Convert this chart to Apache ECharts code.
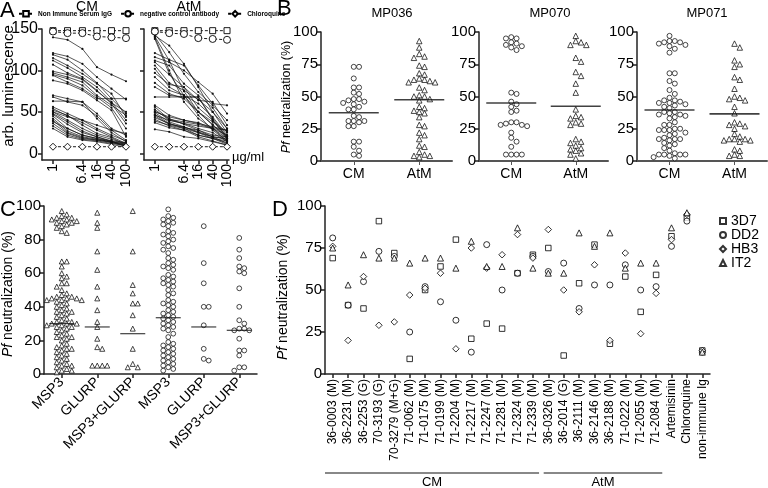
<!DOCTYPE html>
<html><head><meta charset="utf-8">
<script src="https://cdn.jsdelivr.net/npm/echarts@6/dist/echarts.min.js"></script>
<style>html,body{margin:0;padding:0;background:#fff}#c{width:768px;height:488px}</style>
</head><body><div id="c"></div>
<script>
const FONT = 'Liberation Sans, Arial, Helvetica, sans-serif';

// ---------- Panel A data ----------
const conc = [1, 2.5, 6.4, 16, 40, 100];
const concTickLabels = [1, 6.4, 16, 40, 100];
const lumTicks = [0, 50, 100, 150];
const igG_CM = [148, 148, 148, 148, 148, 148];
const negCtrl_CM = [147, 145, 145, 141, 140, 139];
const chloro_CM = [8, 8, 8, 8, 8, 8];
const igG_AtM = [148, 148, 148, 148, 148, 148];
const negCtrl_AtM = [147, 145, 144, 139, 138, 137];
const chloro_AtM = [8, 8, 8, 8, 8, 8];
const cmLines = [
  [140,137,126,104,95,87],[121,117,108,92,78,65],[119,113,100,85,66,48],[115,106,96,84,72,44],
  [112,103,92,80,62,40],[107,97,90,76,60,36],[99,95,89,75,61,50],[97,92,86,70,58,46],
  [95,90,82,68,55,30],[94,86,78,66,66,66],[88,84,76,64,52,20],[70,66,62,48,30,22],
  [68,62,58,45,28,16],[63,63,62,42,25,14],[56,48,40,30,22,15],[54,45,37,28,20,12],
  [52,46,34,24,19,10],[50,40,30,22,17,12],[48,38,27,20,15,8],[47,35,25,20,14,10],
  [45,30,22,18,13,9],[42,27,20,17,14,11],[40,25,19,16,14,12],[38,30,22,18,15,13],
  [36,24,18,16,13,10],[33,22,17,15,12,9],[30,20,16,14,11,7],[50,44,40,34,28,24]
];
const atmLines = [
  [144,122,96,74,58,40],[142,130,108,80,50,30],[141,112,75,50,34,20],[140,100,62,42,30,18],
  [138,96,70,46,28,15],[121,113,106,82,60,58],[116,110,100,86,72,48],[112,106,84,70,55,30],
  [110,95,80,64,62,34],[106,85,76,65,50,25],[102,80,70,60,44,22],[97,83,80,55,40,20],
  [92,76,70,50,35,18],[85,72,66,50,38,26],[80,70,68,68,42,20],[68,68,68,68,40,18],
  [58,46,40,36,32,28],[56,41,38,35,30,15],[53,40,36,30,25,14],[51,42,35,28,20,12],
  [49,38,32,25,18,11],[47,36,30,22,18,15],[45,35,32,26,20,18],[43,36,31,28,22,20],
  [41,33,28,20,15,10],[39,34,30,25,20,17],[37,31,28,22,18,13],[29,26,20,18,14,10],
  [46,40,36,33,30,28],[50,44,40,37,30,22]
];

// ---------- Panel B data ----------
const bCategories = ['CM', 'AtM'];
const bTitles = ['MP036', 'MP070', 'MP071'];
const mp036CM = [73,73,64,57,57,53,52,48,48,47,46,45,44,42,40,40,35,34,31,31,31,30,27,27,15,15,11,8,5,4];
const mp036AtM = [93,88,83,81,80,74,73,68,67,64,63,63,62,61,61,57,55,51,50,50,48,47,42,41,39,38,37,34,28,27,22,20,17,12,11,7,5,4,4,3];
const mp070CM = [96,95,95,92,91,90,89,88,86,53,52,46,44,42,39,38,30,30,29,28,28,27,22,18,15,11,5,5,5,5];
const mp070AtM = [97,93,92,90,90,80,77,69,66,60,53,40,35,34,33,30,29,28,17,15,14,12,10,9,8,6,5,2];
const mp071CM = [97,93,93,92,92,91,90,89,87,84,68,68,62,60,55,52,49,47,47,46,45,45,44,43,42,41,38,38,37,36,36,35,34,33,30,28,28,25,25,24,24,24,22,21,20,18,17,17,17,16,14,13,12,10,8,6,5,5,5,5,4,3,2];
const mp071AtM = [91,88,78,75,73,65,63,56,50,49,48,47,42,37,30,29,28,27,25,21,19,17,17,17,16,16,15,9,8,5,4,4];
const bMeans = [[37.4, 47.5], [45, 42.5], [39.5, 36.5]];

// ---------- Panel C data ----------
const cCategories = ['MSP3', 'GLURP', 'MSP3+GLURP', 'MSP3', 'GLURP', 'MSP3+GLURP'];
const cMSP3tri = [97,95,94,93,93,92,92,91,91,90,90,89,88,87,85,84,67,67,64,60,58,57,54,54,52,50,48,47,46,46,45,45,45,44,44,44,43,42,41,40,39,38,37,37,36,35,34,33,32,31,31,30,30,30,29,29,28,28,27,26,25,24,23,22,22,21,20,18,17,16,15,15,14,13,12,11,10,9,8,7,6,5,5,4,3,2,2,1];
const cGLURPtri = [96,90,87,73,62,52,45,38,31,28,21,16,15,5,5,5,5];
const cBothTri = [97,73,53,48,42,42,35,27,15,6,4,4];
const cMSP3circ = [98,94,93,92,91,90,89,88,85,84,83,82,80,79,78,76,75,74,72,69,68,66,65,64,63,62,59,58,57,56,55,54,53,52,50,48,47,44,43,42,41,40,38,37,36,35,34,33,32,31,30,29,28,27,26,24,22,19,18,17,16,15,14,13,12,11,10,9,8,7,6,5,4,3,2];
const cGLURPcirc = [88,66,54,40,40,29,15,9,8];
const cBothCirc = [81,74,69,64,63,61,60,51,40,32,30,27,27,26,26,21,14,14,11,4,4,2];
const cMeans = [30, 28, 24, 33.5, 28, 26];

// ---------- Panel D data ----------
const dCategories = ['36-0003 (M)','36-2231 (M)','36-2253 (G)','70-3193 (G)','70-3279 (M+G)','71-0062 (M)','71-0175 (M)','71-0199 (M)','71-2204 (M)','71-2217 (M)','71-2247 (M)','71-2281 (M)','71-2324 (M)','71-2339 (M)','36-0326 (M)','36-2014 (G)','36-2111 (M)','36-2146 (M)','36-2188 (M)','71-0222 (M)','71-2055 (M)','71-2084 (M)','Artemisinin','Chloroquine','non-immune Ig'];
const d3D7 = [69,41,39,91,72,9,50,64,80,21,30,27,60,71,75,11,54,77,18,58,37,59,82,93,14];
const dDD2 = [81,41,55,73,70,25,52,43,32,13,77,50,60,70,61,66,39,53,53,65,50,52,76,91,13];
const dHB3 = [76,20,58,29,31,47,51,60,15,75,63,71,83,69,86,50,37,65,20,72,24,48,80,95,14];
const dIT2 = [75,53,71,69,69,66,69,69,63,79,64,64,87,63,60,60,84,76,84,63,66,66,87,96,13];
const dGroups = [['CM', 0, 13], ['AtM', 14, 21]];

// ---------- helpers ----------
const AX = {color: '#222', width: 1.5};
const TXT = {color: '#000', fontFamily: FONT};
function swarm(values, pxPerUnit, d) {
  const order = values.map((v, i) => i).sort((a, b) => values[b] - values[a]);
  const placed = [], off = new Array(values.length);
  for (const i of order) {
    const y = values[i] * pxPerUnit;
    for (let k = 0; ; k++) {
      const c = k === 0 ? 0 : (k % 2 ? 1 : -1) * Math.ceil(k / 2) * d;
      if (placed.every(p => (p.x - c) ** 2 + (p.y - y) ** 2 >= d * d * 0.92)) {
        placed.push({x: c, y}); off[i] = c; break;
      }
    }
  }
  return off;
}
function dotSeries(axisIdx, cat, values, symbol, ppu, d, size) {
  const off = swarm(values, ppu, d);
  return {
    type: 'scatter', xAxisIndex: axisIdx, yAxisIndex: axisIdx, symbol, symbolSize: size,
    itemStyle: {color: '#fff', borderColor: '#000', borderWidth: 0.9},
    data: values.map((v, i) => ({value: [cat, v], symbolOffset: [off[i], 0]})),
    silent: true, z: 3
  };
}
function meanSeries(axisIdx, means, w, h) {
  return {type: 'scatter', xAxisIndex: axisIdx, yAxisIndex: axisIdx, symbol: 'rect',
    symbolSize: [w, h], itemStyle: {color: '#111'}, data: means.map((m, i) => [i, m]), silent: true, z: 4};
}

// ---------- grids & axes ----------
const grids = [
  {left: 42, top: 29, width: 86, height: 131},   // A CM
  {left: 144, top: 29, width: 85, height: 131},  // A AtM
  {left: 321, top: 32, width: 131, height: 129}, // B MP036
  {left: 479, top: 32, width: 129, height: 129}, // B MP070
  {left: 637, top: 32, width: 130, height: 129}, // B MP071
  {left: 44, top: 206, width: 213, height: 168}, // C
  {left: 325, top: 206, width: 385, height: 168} // D
];
const xAxes = [], yAxes = [];
for (let g = 0; g < 2; g++) {
  xAxes.push({type: 'log', logBase: 10, gridIndex: g, min: 0.5, max: 113.5,
    axisLine: {show: true, onZero: false, lineStyle: AX},
    axisTick: {show: true, length: 4, lineStyle: AX, customValues: concTickLabels},
    axisLabel: Object.assign({customValues: concTickLabels, rotate: 90, fontSize: 14, margin: 4,
      formatter: v => String(v)}, TXT),
    splitLine: {show: false}});
  yAxes.push({type: 'value', gridIndex: g, min: -8, max: 150,
    axisLine: {show: true, lineStyle: AX},
    axisTick: {show: true, length: 4, lineStyle: AX, customValues: lumTicks},
    axisLabel: Object.assign({show: g === 0, customValues: lumTicks, fontSize: 16, margin: 4}, TXT),
    splitLine: {show: false}});
}
for (let g = 2; g < 5; g++) {
  xAxes.push({type: 'category', gridIndex: g, data: bCategories,
    axisLine: {show: true, lineStyle: {color: '#555', width: 2}},
    axisTick: {show: true, alignWithLabel: true, length: 4, lineStyle: {color: '#555'}},
    axisLabel: Object.assign({fontSize: 14, margin: 6, interval: 0}, TXT)});
  yAxes.push({type: 'value', gridIndex: g, min: 0, max: 100, interval: 25,
    axisLine: {show: true, lineStyle: AX},
    axisTick: {show: true, length: 4, lineStyle: AX},
    axisLabel: Object.assign({fontSize: 15, margin: 3}, TXT), splitLine: {show: false}});
}
xAxes.push({type: 'category', gridIndex: 5, data: cCategories,
  axisLine: {show: true, lineStyle: AX},
  axisTick: {show: true, alignWithLabel: true, length: 4, lineStyle: AX},
  axisLabel: Object.assign({fontSize: 14, rotate: 45, margin: 6, interval: 0}, TXT)});
yAxes.push({type: 'value', gridIndex: 5, min: 0, max: 100, interval: 20,
  axisLine: {show: true, lineStyle: AX}, axisTick: {show: true, length: 4, lineStyle: AX},
  axisLabel: Object.assign({fontSize: 15, margin: 3}, TXT), splitLine: {show: false}});
xAxes.push({type: 'category', gridIndex: 6, data: dCategories,
  axisLine: {show: true, lineStyle: AX},
  axisTick: {show: true, alignWithLabel: true, length: 4, lineStyle: AX},
  axisLabel: Object.assign({fontSize: 12, rotate: 90, margin: 5, interval: 0}, TXT)});
yAxes.push({type: 'value', gridIndex: 6, min: 0, max: 100, interval: 25,
  axisLine: {show: true, lineStyle: AX}, axisTick: {show: true, length: 4, lineStyle: AX},
  axisLabel: Object.assign({fontSize: 15, margin: 3}, TXT), splitLine: {show: false}});

// ---------- series ----------
const series = [];
function lineSet(axisIdx, lines) {
  lines.forEach(r => series.push({type: 'line', xAxisIndex: axisIdx, yAxisIndex: axisIdx,
    data: conc.map((c, i) => [c, r[i]]), symbol: 'circle', symbolSize: 2.2, showSymbol: true,
    lineStyle: {color: '#111', width: 0.7}, itemStyle: {color: '#111'}, silent: true, z: 2}));
}
lineSet(0, cmLines);
lineSet(1, atmLines);
function ctrl(name, axisIdx, vals, symbol, size) {
  series.push({type: 'line', name, xAxisIndex: axisIdx, yAxisIndex: axisIdx,
    data: conc.map((c, i) => [c, vals[i]]), symbol, symbolSize: size,
    lineStyle: {color: '#000', width: 0.9, type: [3, 2]},
    itemStyle: {color: '#fff', borderColor: '#000', borderWidth: 0.9}, silent: true, z: 3});
}
ctrl('Non Immune Serum IgG', 0, igG_CM, 'rect', 6);
ctrl('negative control antibody', 0, negCtrl_CM, 'circle', 7);
ctrl('Chloroquine', 0, chloro_CM, 'diamond', 7);
ctrl('Non Immune Serum IgG', 1, igG_AtM, 'rect', 6);
ctrl('negative control antibody', 1, negCtrl_AtM, 'circle', 7);
ctrl('Chloroquine', 1, chloro_AtM, 'diamond', 7);

const bPPU = 129 / 100;
[[mp036CM, mp036AtM], [mp070CM, mp070AtM], [mp071CM, mp071AtM]].forEach((pair, k) => {
  series.push(dotSeries(2 + k, 0, pair[0], 'circle', bPPU, 5.3, 5));
  series.push(dotSeries(2 + k, 1, pair[1], 'triangle', bPPU, 5.3, 5.5));
  series.push(meanSeries(2 + k, bMeans[k], 50, 1.6));
});
const cPPU = 168 / 100;
[cMSP3tri, cGLURPtri, cBothTri].forEach((v, i) => series.push(dotSeries(5, i, v, 'triangle', cPPU, 5, 5)));
[cMSP3circ, cGLURPcirc, cBothCirc].forEach((v, i) => series.push(dotSeries(5, 3 + i, v, 'circle', cPPU, 5, 4.8)));
series.push(meanSeries(5, cMeans, 25, 1.2));

[['3D7', d3D7, 'rect', 5.5], ['DD2', dDD2, 'circle', 6], ['HB3', dHB3, 'diamond', 6.5], ['IT2', dIT2, 'triangle', 6]]
  .forEach(([name, vals, sym, sz]) => series.push({type: 'scatter', name, xAxisIndex: 6, yAxisIndex: 6,
    symbol: sym, symbolSize: sz, itemStyle: {color: '#fff', borderColor: '#000', borderWidth: 1},
    data: vals.map((v, i) => [i, v]), silent: true, z: 3}));

// ---------- text ----------
function t(x, y, text, size, extra) {
  return Object.assign({type: 'text', x, y, silent: true,
    style: Object.assign({text, fontSize: size, fontFamily: FONT, fill: '#000', align: 'center', verticalAlign: 'middle'}, extra || {})});
}
function pfName(x, y, size) {
  return {type: 'text', x, y, rotation: Math.PI / 2, silent: true,
    style: {text: '{i|Pf} neutralization (%)', fontSize: size, fontFamily: FONT, fill: '#000',
      align: 'center', verticalAlign: 'middle',
      rich: {i: {fontStyle: 'italic', fontSize: size, fontFamily: FONT, fill: '#000'}}}};
}
const baseGraphics = [
  t(0, 0, 'A', 22, {align: 'left', verticalAlign: 'top'}),
  t(277, -2, 'B', 22, {align: 'left', verticalAlign: 'top'}),
  t(0, 199, 'C', 22, {align: 'left', verticalAlign: 'top'}),
  t(272, 199, 'D', 22, {align: 'left', verticalAlign: 'top'}),
  t(87, 7, 'CM', 14), t(189, 7, 'AtM', 14),
  Object.assign(t(9, 86, 'arb. luminescence', 15), {rotation: Math.PI / 2}),
  t(232, 157, 'µg/ml', 13, {align: 'left'}),
  t(392, 13, bTitles[0], 13), t(550, 13, bTitles[1], 13), t(707, 13, bTitles[2], 13),
  pfName(287, 97, 12.5), pfName(8, 294, 14), pfName(283, 297, 14)
];

const chart = echarts.init(document.getElementById('c'), null, {renderer: 'canvas'});
const option = {
  animation: false,
  backgroundColor: '#fff',
  textStyle: {fontFamily: FONT},
  grid: grids,
  xAxis: xAxes,
  yAxis: yAxes,
  legend: [
    {data: ['Non Immune Serum IgG', 'negative control antibody', 'Chloroquine'], left: 18, top: 10,
      orient: 'horizontal', itemWidth: 14, itemHeight: 7, itemGap: 8, padding: 0,
      textStyle: {fontSize: 6.5, fontWeight: 'bold', color: '#000', fontFamily: FONT}, selectedMode: false},
    {data: ['3D7', 'DD2', 'HB3', 'IT2'], left: 719, top: 214, orient: 'vertical',
      itemWidth: 6, itemHeight: 6, itemGap: 0, padding: 0,
      textStyle: {fontSize: 14, lineHeight: 12, color: '#000', fontFamily: FONT}, selectedMode: false}
  ],
  series,
  graphic: {elements: baseGraphics}
};
chart.setOption(option);

// group brackets under panel D, placed through the category axis
const extra = [];
const c0 = chart.convertToPixel({xAxisIndex: 6}, 0), c1 = chart.convertToPixel({xAxisIndex: 6}, 1);
const w = c1 - c0;
dGroups.forEach(([label, a, b], k) => {
  const xa = chart.convertToPixel({xAxisIndex: 6}, a) - (k === 0 ? 0.5 : 0.3) * w;
  const xb = chart.convertToPixel({xAxisIndex: 6}, b) + 0.4 * w;
  extra.push({type: 'line', silent: true, shape: {x1: xa, y1: 473, x2: xb, y2: 473},
    style: {stroke: '#888', lineWidth: 2.2}});
  extra.push(t((xa + xb) / 2, 482, label, 13));
});
chart.setOption({graphic: {elements: baseGraphics.concat(extra)}});
</script></body></html>
